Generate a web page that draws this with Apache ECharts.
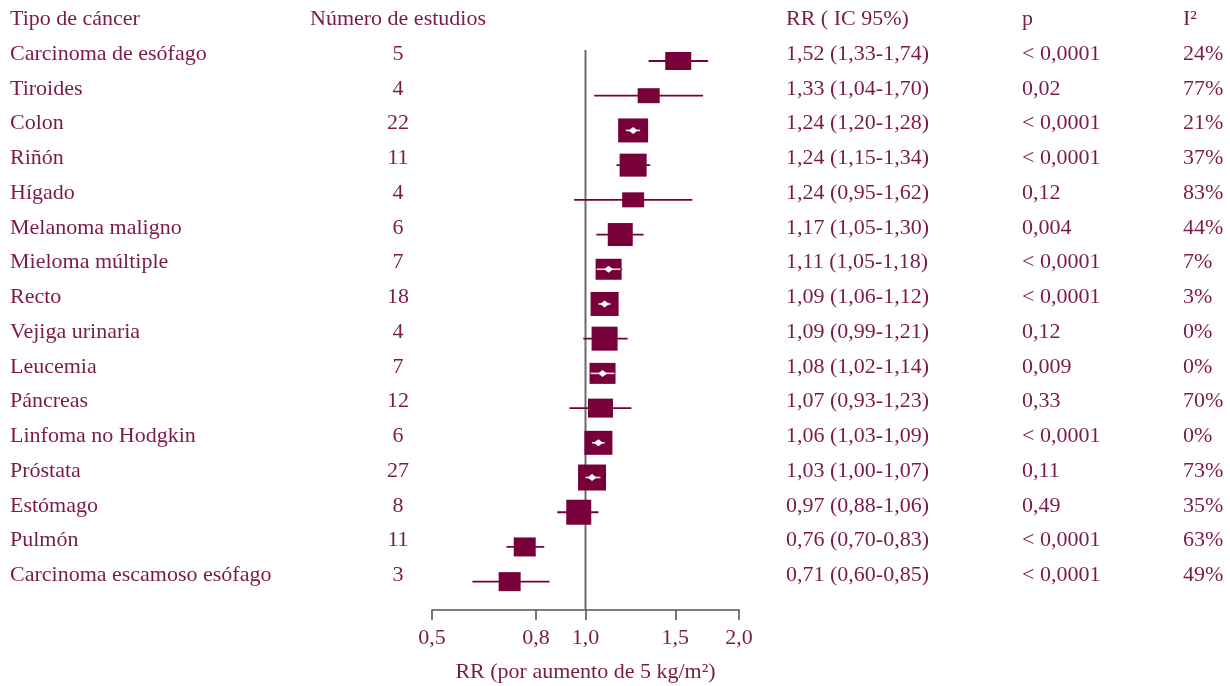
<!DOCTYPE html>
<html><head><meta charset="utf-8">
<script src="https://cdn.jsdelivr.net/npm/echarts@6/dist/echarts.min.js"></script>
<style>html,body{margin:0;padding:0;background:#fff}#c{width:1230px;height:686px}</style>
</head><body><div id="c"></div>
<script>
// ---- data ----
const tipos = ['Carcinoma de esófago','Tiroides','Colon','Riñón','Hígado','Melanoma maligno','Mieloma múltiple','Recto','Vejiga urinaria','Leucemia','Páncreas','Linfoma no Hodgkin','Próstata','Estómago','Pulmón','Carcinoma escamoso esófago'];
const estudios = [5,4,22,11,4,6,7,18,4,7,12,6,27,8,11,3];
const rr = [1.52,1.33,1.24,1.24,1.24,1.17,1.11,1.09,1.09,1.08,1.07,1.06,1.03,0.97,0.76,0.71];
const icInf = [1.33,1.04,1.20,1.15,0.95,1.05,1.05,1.06,0.99,1.02,0.93,1.03,1.00,0.88,0.70,0.60];
const icSup = [1.74,1.70,1.28,1.34,1.62,1.30,1.18,1.12,1.21,1.14,1.23,1.09,1.07,1.06,0.83,0.85];
const pValores = ['< 0,0001','0,02','< 0,0001','< 0,0001','0,12','0,004','< 0,0001','< 0,0001','0,12','0,009','0,33','< 0,0001','0,11','0,49','< 0,0001','< 0,0001'];
const i2 = ['24%','77%','21%','37%','83%','44%','7%','3%','0%','0%','70%','0%','73%','35%','63%','49%'];
const ticksRR = [0.5,0.8,1.0,1.5,2.0];
const encabezados = ['Tipo de cáncer','Número de estudios','RR ( IC 95%)','p','I²'];
const tituloEje = 'RR (por aumento de 5 kg/m²)';

// ---- style (box sizes in px, width/height) ----
const cajaAncho = [26,22,30,27,22,25,26,28,26,26,25,28,28,25,22,22];
const cajaAlto  = [18,15,24,23,15,23,21,24,24,21,19,24,26,25,19,19];

const fmt = v => v.toFixed(2).replace('.',',');
const rrTexto = rr.map((v,i)=> fmt(v)+' ('+fmt(icInf[i])+'-'+fmt(icSup[i])+')');

const TXT = '#7a1a47';
const BOX = '#77003a';
const FONT = '"Liberation Serif","Times New Roman",serif';
const FS = 22;

const tickVals = ticksRR.map(Math.log);

// plot grid geometry: row0 at y=61, pitch 34.71, grid 50..610
const pitch = 34.71, gTop = 50, gH = 560;
const yMin = (gTop - 61) / pitch;
const yMax = yMin + gH / pitch;

// text grid: 17 rows (header + 16), centers 19.5 + 34.73k
const tPitch = 34.73;
const tTop = 19.5 - tPitch/2;

function textAxis(x, values, align){
  return {
    gridIndex: 1, type: 'category', inverse: true, position: 'right',
    offset: x - 1, data: values,
    axisLine: {show:false}, axisTick: {show:false}, splitLine:{show:false},
    axisLabel: {interval:0, margin:0, align: align, color: TXT, fontFamily: FONT, fontSize: FS}
  };
}

const chart = echarts.init(document.getElementById('c'), null, {renderer:'canvas'});
const option = {
  backgroundColor: '#fff',
  animation: false,
  grid: [
    {left: 432, width: 307, top: gTop, height: gH, containLabel:false, outerBoundsMode:'none'},
    {left: 0, width: 1, top: tTop, height: tPitch*17, containLabel:false, outerBoundsMode:'none'}
  ],
  xAxis: [
    {
      gridIndex: 0, type: 'value', min: Math.log(0.5), max: Math.log(2.0),
      axisLine: {onZero:false, lineStyle:{color:'#555', width:1.6}},
      axisTick: {customValues: tickVals, length: 10, inside:false, lineStyle:{color:'#555', width:1.6}},
      axisLabel: {customValues: tickVals, margin: 17, color: TXT, fontFamily: FONT, fontSize: FS,
        formatter: v => Math.exp(v).toFixed(1).replace('.',',')},
      splitLine: {show:false},
      name: tituloEje, nameLocation: 'middle', nameGap: 51,
      nameTextStyle: {color: TXT, fontFamily: FONT, fontSize: FS}
    },
    {gridIndex: 1, type: 'value', show: false}
  ],
  yAxis: [
    {gridIndex: 0, type: 'value', inverse: true, min: yMin, max: yMax, show: false, axisLine:{onZero:false}},
    textAxis(10, [encabezados[0]].concat(tipos), 'left'),
    textAxis(398, [encabezados[1]].concat(estudios.map(String)), 'center'),
    textAxis(786, [encabezados[2]].concat(rrTexto), 'left'),
    textAxis(1022, [encabezados[3]].concat(pValores), 'left'),
    textAxis(1183, [encabezados[4]].concat(i2), 'left')
  ],
  series: [
    {
      type: 'line', xAxisIndex: 0, yAxisIndex: 0, z: 1, silent: true,
      showSymbol: false, data: [[0, yMin], [0, yMax]],
      lineStyle: {color: '#6b6b6b', width: 2}
    },
    {
      type: 'custom', xAxisIndex: 0, yAxisIndex: 0, z: 3, silent: true,
      data: rr.map((v,i)=>[Math.log(v), i, Math.log(icInf[i]), Math.log(icSup[i])]),
      renderItem: function(params, api){
        const i = params.dataIndex;
        const c = api.coord([api.value(0), api.value(1)]);
        const xl = api.coord([api.value(2), api.value(1)])[0];
        const xh = api.coord([api.value(3), api.value(1)])[0];
        const w = cajaAncho[i], h = cajaAlto[i];
        const bl = c[0]-w/2, br = c[0]+w/2;
        const kids = [
          {type:'line', shape:{x1:xl, y1:c[1], x2:xh, y2:c[1]}, style:{stroke:BOX, lineWidth:1.8}},
          {type:'rect', shape:{x:bl, y:c[1]-h/2, width:w, height:h}, style:{fill:BOX}}
        ];
        if (xl >= bl-1 && xh <= br+1) {
          kids.push({type:'line', shape:{x1:Math.max(xl,bl+1), y1:c[1], x2:Math.min(xh,br-1), y2:c[1]}, style:{stroke:'#f4dce6', lineWidth:1.6}});
          kids.push({type:'polygon', shape:{points:[[c[0]-4.5,c[1]],[c[0],c[1]-3.5],[c[0]+4.5,c[1]],[c[0],c[1]+3.5]]}, style:{fill:'#fff'}});
        }
        return {type:'group', children: kids};
      }
    }
  ]
};
chart.setOption(option);
</script>
</body></html>
